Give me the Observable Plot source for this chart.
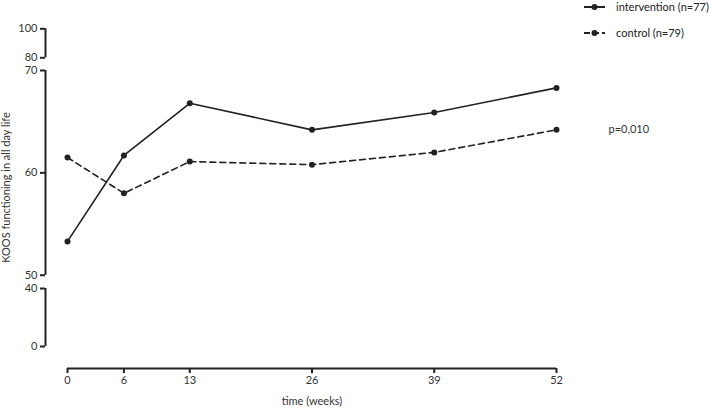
<!DOCTYPE html>
<html>
<head>
<meta charset="utf-8">
<script src="https://cdn.jsdelivr.net/npm/d3@7"></script>
<script src="https://cdn.jsdelivr.net/npm/@observablehq/plot@0.6"></script>
<style>
  body { margin: 0; background: #fff; }
  #wrap { position: relative; width: 709px; height: 411px; font-family: Lato, sans-serif; color: #222; }
  #legend { position: absolute; left: 584px; top: 0; width: 125px; font-size: 11px; }
  .item { position: absolute; left: 0; white-space: nowrap; display: flex; align-items: center; height: 13px; }
  .item svg { flex: none; margin-right: 11px; }
</style>
</head>
<body>
<div id="wrap">
  <div id="chart"></div>
  <div id="legend"></div>
</div>
<script>
const weeks = [0, 6, 13, 26, 39, 52];
const intervention = [53.3, 61.7, 66.8, 64.2, 65.9, 68.3];
const control = [61.5, 58.0, 61.1, 60.8, 62.0, 64.2];
const seriesNames = ["intervention (n=77)", "control (n=79)"];
const yTicks = [0, 40, 50, 60, 70, 80, 100];
const ySegments = [[0, 40], [50, 70], [80, 100]];
const xTicks = [0, 6, 13, 26, 39, 52];
const yLabel = "KOOS functioning in all day life";
const xLabel = "time (weeks)";
const pText = "p=0,010";

const rows = [];
weeks.forEach((w, i) => rows.push({week: w, value: intervention[i], series: seriesNames[0]}));
weeks.forEach((w, i) => rows.push({week: w, value: control[i], series: seriesNames[1]}));
const segs = ySegments.map(([lo, hi]) => ({lo, hi}));
const ink = "#222";
const xMin = d3.min(weeks), xMax = d3.max(weeks);

const chart = Plot.plot({
  width: 709,
  height: 411,
  marginLeft: 45,
  marginRight: 153,
  marginTop: 6,
  marginBottom: 43,
  style: {fontFamily: "Lato, sans-serif", fontSize: "11px", color: ink, background: "white"},
  x: {domain: [xMin, xMax], range: [67, 556]},
  y: {type: "linear", domain: [0, 40, 50, 70, 80, 100], range: [346, 288, 274.7, 70, 57.3, 28.3]},
  marks: [
    Plot.ruleX(segs, {x: () => xMin, y1: "lo", y2: "hi", dx: -22, stroke: ink, strokeWidth: 2}),
    Plot.axisY(yTicks, {tickSize: 5, tickPadding: 3, strokeWidth: 2, label: null, fill: "#333"}),
    Plot.ruleY([0], {x1: xMin, x2: xMax, dy: 22, stroke: ink, strokeWidth: 2}),
    Plot.axisX(xTicks, {tickSize: 5, tickPadding: 3, strokeWidth: 2, label: null, fill: "#333"}),
    Plot.text([yLabel], {frameAnchor: "left", textAnchor: "middle", rotate: -90, dx: -39, fontSize: 11, fill: "#333"}),
    Plot.text([xLabel], {x: (xMin + xMax) / 2, frameAnchor: "bottom", dy: 36, fontSize: 11, fill: "#333"}),
    Plot.line(rows.filter(d => d.series === seriesNames[0]), {x: "week", y: "value", stroke: ink, strokeWidth: 1.6}),
    Plot.line(rows.filter(d => d.series === seriesNames[1]), {x: "week", y: "value", stroke: ink, strokeWidth: 1.6, strokeDasharray: "6,4"}),
    Plot.dot(rows, {x: "week", y: "value", r: 3, fill: ink}),
    Plot.text([pText], {x: () => xMax, y: () => control[control.length - 1], dx: 52, textAnchor: "start", fontSize: 11, fill: "#333"})
  ]
});
document.getElementById("chart").appendChild(chart);

const legend = document.getElementById("legend");
seriesNames.forEach((name, i) => {
  const item = document.createElement("div");
  item.className = "item";
  item.style.top = (i === 0 ? 0 : 26) + "px";
  const dash = i === 0 ? "" : ' stroke-dasharray="6,3"';
  item.innerHTML = `<svg width="21" height="8"><line x1="0" y1="4" x2="21" y2="4" stroke="${ink}" stroke-width="2"${dash}/><circle cx="10.5" cy="4" r="3" fill="${ink}"/></svg><span>${name}</span>`;
  legend.appendChild(item);
});
</script>
</body>
</html>
